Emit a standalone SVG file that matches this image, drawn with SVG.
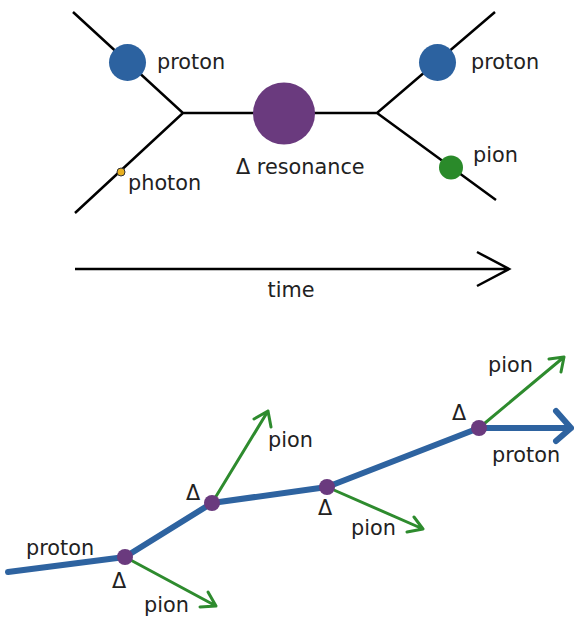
<svg xmlns="http://www.w3.org/2000/svg" width="574" height="618" viewBox="0 0 574 618">
<style>
text{font-family:"DejaVu Sans",sans-serif;font-size:20.8px;fill:#222}
.k{stroke:#000;stroke-width:2.5;fill:none}
.b{stroke:#2e63a0;stroke-width:6;fill:none;stroke-linecap:round;stroke-linejoin:round}
.g{stroke:#2e8b2e;stroke-width:3;fill:none;stroke-linecap:round;stroke-linejoin:round}
.d{fill:#6a3a7e}
</style>
<rect width="574" height="618" fill="#fff"/>
<g id="connectors">
<path class="k" d="M73 12 L183 113 L75 213 M183 113 L377 113 L495 12 M377 113 L496 200"/>
<path class="k" d="M75 269 L509 269 M477 252 L509 269 L477 286"/>
<path class="b" d="M8 572 L125 557 L212 503 L327 487 L479 428 L571 428 M556 411 L571 428 L556 441"/>
<path class="g" d="M125 557 L216 606 M200 607 L216 606 L208 592"/>
<path class="g" d="M212 503 L268 411 M254 419 L268 411 L271 427"/>
<path class="g" d="M327 487 L423 529 M407 532 L423 529 L414 517"/>
<path class="g" d="M479 428 L564 357 M549 359 L564 357 L561 372"/>
</g>
<g id="proton_in"><circle cx="127.5" cy="62.5" r="18.5" fill="#2c62a0"/><text x="157" y="69">proton</text></g>
<g id="photon"><circle cx="121" cy="172" r="4" fill="#e8b020" stroke="#333" stroke-width="1"/><text x="128" y="190">photon</text></g>
<g id="delta"><circle cx="284" cy="113.5" r="31" fill="#6a3a7e"/><text x="236" y="174">Δ resonance</text></g>
<g id="proton_out"><circle cx="437.5" cy="62.5" r="18.5" fill="#2c62a0"/><text x="471" y="69">proton</text></g>
<g id="pion_out"><circle cx="451" cy="167.5" r="12" fill="#2a8a2a"/><text x="473" y="162">pion</text></g>
<g id="time"><text x="291" y="297" text-anchor="middle">time</text></g>
<g id="v1"><circle class="d" cx="125" cy="557" r="8"/><text x="112" y="588">Δ</text><text x="26" y="555">proton</text><text x="144" y="612">pion</text></g>
<g id="v2"><circle class="d" cx="212" cy="503" r="8"/><text x="186" y="500">Δ</text><text x="268" y="447">pion</text></g>
<g id="v3"><circle class="d" cx="327" cy="487" r="8"/><text x="318" y="515">Δ</text><text x="351" y="535">pion</text></g>
<g id="v4"><circle class="d" cx="479" cy="428" r="8"/><text x="452" y="420">Δ</text><text x="488" y="372">pion</text><text x="492" y="462">proton</text></g>
</svg>
